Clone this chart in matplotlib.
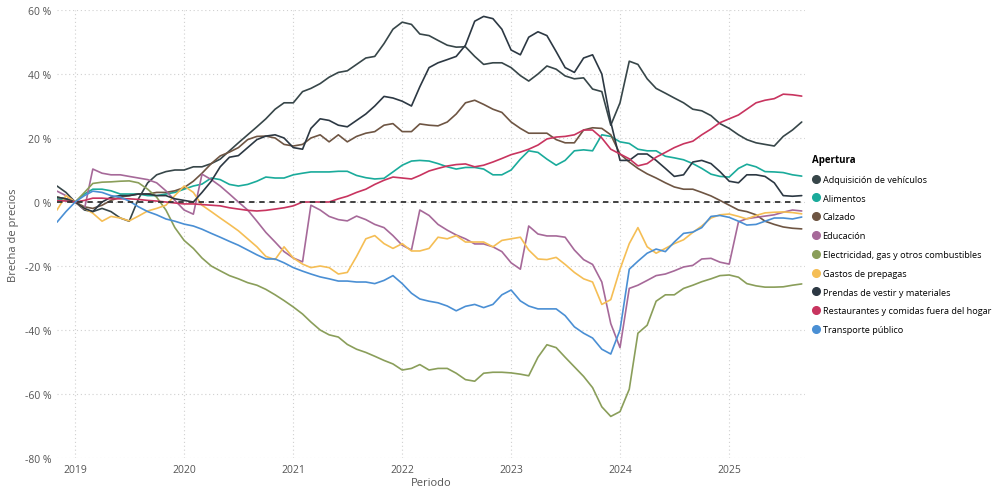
import matplotlib
matplotlib.use("Agg")
import matplotlib.pyplot as plt
from matplotlib.lines import Line2D
import pandas as pd

plt.rcParams['font.family'] = ['Open Sans', 'DejaVu Sans']

# Monthly series, Nov 2018 .. Sep 2025 (83 months)
dates = pd.date_range('2018-11-01', periods=83, freq='MS')

vehiculos = [5, 3,
    0, -2.5, -3, -2, -3, -5, -6, 1, 6, 8.5, 9.5, 10,
    10, 11, 11, 12, 13.4, 16, 18.5, 21, 23.5, 26, 29, 31,
    31, 34.5, 35.5, 37, 39, 40.5, 41, 43, 45, 45.5, 49.5, 54,
    56.2, 55.5, 52.5, 52, 50.5, 49, 48.4, 48.5, 45.5, 43, 43.5, 43.5,
    42, 39.5, 37.8, 40, 42.5, 41.5, 39.4, 38.5, 38.8, 35.3, 34.5, 24,
    31, 44, 43, 38.5, 35.5, 34, 32.5, 31, 29, 28.5, 27, 24.5,
    23, 21, 19.5, 18.5, 18, 17.5, 20.5, 22.5, 25]

alimentos = [1, 0.5,
    0, 2.5, 4, 4, 3.5, 2.5, 2.5, 2.5, 2, 2, 2.5, 3,
    4, 5, 5.6, 7.5, 7, 5.5, 5, 5.5, 6.5, 7.8, 7.5, 7.5,
    8.5, 9, 9.4, 9.4, 9.4, 9.6, 9.6, 8.3, 7.6, 7.2, 7.4, 9.4,
    11.5, 12.8, 13, 12.8, 12, 11, 10.3, 10.8, 10.8, 10.3, 8.5, 8.5,
    10, 13.4, 16, 15.5, 13.4, 11.5, 13, 16, 16.3, 16, 21, 20.5,
    18.8, 18.3, 16.5, 16, 16, 14.3, 13.8, 13.2, 12, 10.5, 8.7, 8,
    7.8, 10.5, 11.8, 11, 9.5, 9.4, 9.2, 8.5, 8.1]

calzado = [1.5, 1,
    0, -1.5, -2, -1, 0.5, 1.5, 2, 2.5, 2.5, 3, 3, 3.5,
    4.5, 6.5, 9, 12, 14.4, 15.6, 17, 19.5, 20.5, 20.6, 20, 18,
    17.5, 18, 20, 21, 18.8, 21, 18.8, 20.5, 21.5, 22, 24, 24.5,
    22, 22, 24.4, 24, 23.8, 25, 27.5, 31, 31.8, 30.5, 29, 28,
    25, 23, 21.5, 21.5, 21.5, 19.5, 18.5, 18.5, 22.5, 23.2, 23, 21,
    15, 12.5, 10.5, 8.8, 7.5, 6, 4.7, 4, 4, 3, 1.9, 0.5,
    -1, -2.5, -3, -4, -6, -7, -7.8, -8.2, -8.4]

educacion = [3.4, 2,
    0, -2.2, 10.3, 9, 8.5, 8.5, 8, 7.5, 7, 6, 3.5, 0.5,
    -2.5, -3.8, 8.7, 7, 5, 2.5, 0, -2.5, -6, -9.5, -12.5, -15.5,
    -17.5, -18.7, -1, -2.5, -4.5, -5.5, -5.9, -4.4, -5.5, -7, -8, -10.5,
    -13.5, -15, -2.5, -4.2, -7, -8.8, -10.3, -11.5, -13.1, -13.1, -14, -15.5,
    -19, -21, -7.5, -10, -10.6, -10.6, -11, -15, -18, -19.5, -25, -38,
    -45.5, -27, -26, -24.5, -23, -22.5, -21.5, -20.3, -19.8, -17.8, -17.6, -18.8,
    -19.4, -6.2, -5.2, -4.8, -4.4, -4, -3.2, -2.5, -2.8]

electricidad = [1.5, 1,
    0, 3, 5.8, 6.2, 6.3, 6.5, 6.6, 6, 4, 1.5, -2.5, -8,
    -12, -14.5, -17.5, -20, -21.5, -23, -24, -25.2, -26, -27.3, -29, -30.8,
    -32.8, -35, -37.5, -40, -41.5, -42.2, -44.5, -46, -47, -48.2, -49.5, -50.6,
    -52.5, -52, -50.8, -52.5, -52, -52, -53.5, -55.5, -56, -53.5, -53.2, -53.2,
    -53.4, -53.8, -54.3, -48.5, -44.6, -45.5, -48.5, -51.5, -54.5, -58, -64, -67,
    -65.5, -58.5, -41, -38.5, -31, -29, -29, -27, -26, -24.9, -24, -23,
    -22.8, -23.5, -25.5, -26.2, -26.6, -26.6, -26.5, -26, -25.6]

prepagas = [-2.5, 2,
    0, -2, -3.5, -6, -4.5, -5, -5.9, -4.4, -2.8, -2, -1, 2,
    5, 3, -1, -3, -5, -7, -9, -11.5, -14, -17, -18, -14,
    -17.5, -19.4, -20.5, -20, -20.5, -22.5, -22, -17, -11.5, -10.5, -13, -14.5,
    -13, -15.3, -15.3, -14.5, -11, -11.5, -10.5, -12.5, -12.5, -12.5, -14, -12,
    -11.5, -11, -15, -17.8, -18, -17.3, -19.5, -22, -24, -25, -32, -30.5,
    -21, -13, -8, -14, -16, -14.5, -13, -11.8, -9.5, -7.5, -5, -4,
    -3.75, -4.5, -5.3, -4.2, -3.4, -3.2, -3.1, -3.3, -3.7]

prendas = [1.5, 1,
    0, -2, -3, 0, 1.5, 2, 2, 2.5, 2.5, 2, 2, 1,
    0.5, 0, 3, 6.5, 11, 14, 14.5, 17, 19.5, 20.6, 21, 20,
    17, 16.5, 23, 26, 25.5, 24, 23.5, 25.5, 27.5, 30, 33, 32.5,
    31.5, 30, 36, 42, 43.5, 44.5, 45.5, 49, 56.5, 58, 57.3, 54,
    47.5, 46, 51.5, 53.2, 52, 47, 42, 40.5, 45, 46, 40, 25,
    13, 13, 15, 15, 13, 10.5, 8, 8.5, 12.5, 13, 12, 9.5,
    6.5, 6, 8.5, 8.5, 8, 6, 2, 1.8, 2]

restaurantes = [0.5, 0.3,
    0, 0.5, 1.2, 1.2, 1, 1, 1, 0.8, 0.5, 0.3, 0, -0.3,
    -0.6, -0.6, -0.8, -1, -1.2, -1.8, -2.2, -2.6, -2.8, -2.6, -2.2, -1.8,
    -1.2, 0, 0, 0, 0, 1, 1.8, 3, 4, 5.5, 6.8, 7.8,
    7.5, 7.2, 8.3, 9.7, 10.5, 11.25, 11.7, 11.9, 11, 11.5, 12.5, 13.6,
    14.8, 15.6, 16.5, 17.8, 19.7, 20.3, 20.5, 21, 22.5, 22.5, 20, 16.5,
    15, 13.5, 11.3, 12, 14, 15.5, 17, 18.2, 19, 21, 22.8, 24.8,
    26, 27.2, 29, 31, 31.8, 32.3, 33.7, 33.5, 33.1]

transporte = [-6.3, -3,
    0, 2, 3.4, 3, 2, 1.5, 0.3, -1.5, -3, -4, -5.3, -6,
    -6.9, -7.5, -8.5, -9.8, -11, -12.3, -13.5, -15, -16.5, -17.8, -17.8, -19,
    -20.5, -21.6, -22.5, -23.4, -24, -24.7, -24.7, -25, -25, -25.5, -24.5, -23,
    -25.5, -28.5, -30.3, -31, -31.5, -32.5, -34, -32.6, -32, -33, -32, -29,
    -27.5, -30.9, -32.5, -33.4, -33.4, -33.4, -35.5, -39, -41, -42.5, -46, -47.5,
    -40, -21, -18.5, -16, -14.7, -15.5, -12.5, -9.8, -9.4, -8, -4.5, -4.2,
    -4.8, -6, -7.2, -7, -6, -5, -5, -5.3, -4.7]

categorias = ['Adquisición de vehículos', 'Alimentos', 'Calzado', 'Educación',
              'Electricidad, gas y otros combustibles', 'Gastos de prepagas',
              'Prendas de vestir y materiales', 'Restaurantes y comidas fuera del hogar',
              'Transporte público']
series = [vehiculos, alimentos, calzado, educacion, electricidad, prepagas,
          prendas, restaurantes, transporte]
colores = ['#374649', '#1AAB9B', '#6E5543', '#A66999', '#8A9E5A', '#F5BE55',
           '#2C3843', '#C8345F', '#4A8FD4']

yticks = [60, 40, 20, 0, -20, -40, -60, -80]
years = [2019, 2020, 2021, 2022, 2023, 2024, 2025]

fig = plt.figure(figsize=(10, 4.89), dpi=100)
ax = fig.add_axes([0.057, 0.0613, 0.748, 0.9162])

for vals, col in zip(series, colores):
    ax.plot(dates, vals, color=col, lw=1.2, solid_capstyle='round', solid_joinstyle='round')

ax.axhline(0, color='#333333', lw=1.3, ls=(0, (3, 2.6)), zorder=5)

ax.set_ylim(-80, 60)
ax.set_xlim(dates[0], pd.Timestamp('2025-09-12'))
ax.set_yticks(yticks)
ax.set_yticklabels([f'{v} %' for v in yticks])
ax.set_xticks([pd.Timestamp(f'{y}-01-01') for y in years])
ax.set_xticklabels([str(y) for y in years])
ax.tick_params(length=0, labelsize=7.5, labelcolor='#555555', pad=4)
ax.grid(True, color='#d0d0d0', ls=(0, (1, 2.5)), lw=0.8)
for s in ax.spines.values():
    s.set_visible(False)
ax.set_ylabel('Brecha de precios', fontsize=8, color='#555555', labelpad=4)
ax.set_xlabel('Periodo', fontsize=8, color='#555555', labelpad=2)

handles = [Line2D([], [], ls='none', marker='o', markersize=5.5, color=c) for c in colores]
leg = fig.legend(handles, categorias, loc='upper left', bbox_to_anchor=(0.812, 0.683),
                 frameon=False, title='Apertura', fontsize=6.6, handletextpad=0.35,
                 handlelength=0.8, labelspacing=1.07, borderaxespad=0, borderpad=0)
leg.get_title().set_fontweight('bold')
leg.get_title().set_fontsize(7)
leg._legend_box.align = 'left'

fig.savefig('out.png', dpi=100)
